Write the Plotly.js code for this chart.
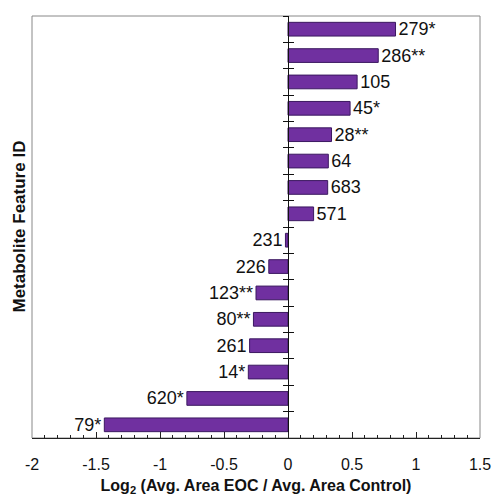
<!DOCTYPE html>
<html><head><meta charset="utf-8">
<script src="https://cdn.plot.ly/plotly-3.0.1.min.js"></script>
<style>html,body{margin:0;padding:0;background:#fff}#chart{width:494px;height:496px}</style>
</head><body><div id="chart"></div>
<script>
const featureIds = ["279*","286**","105","45*","28**","64","683","571","231","226","123**","80**","261","14*","620*","79*"];
const log2Ratio = [0.84,0.705,0.54,0.485,0.34,0.315,0.31,0.20,-0.02,-0.15,-0.25,-0.27,-0.30,-0.31,-0.79,-1.435];
const xTickVals = [-2,-1.5,-1,-0.5,0,0.5,1,1.5];
const xTickText = ["-2","-1.5","-1","-0.5","0","0.5","1","1.5"];

const font = "Liberation Sans, Arial, sans-serif";
const zeroPos = (0 - (-2)) / (1.5 - (-2));

const trace = {
  type: "bar", orientation: "h",
  y: featureIds, x: log2Ratio,
  text: featureIds, textposition: "outside", cliponaxis: false, constraintext: "none",
  textfont: {family: font, size: 18, color: "#111"},
  marker: {color: "#7030A0", line: {color: "#3b1860", width: 1}},
  width: 0.52, hoverinfo: "x+y"
};
// invisible helper so the overlaid (inside-tick) axis at x = 0 is drawn
const helper2 = {type: "scatter", mode: "markers", x: featureIds.map(() => 0), y: featureIds,
  yaxis: "y2", marker: {opacity: 0}, hoverinfo: "skip", showlegend: false};

const layout = {
  width: 494, height: 496,
  margin: {l: 32, r: 14, t: 16, b: 58},
  paper_bgcolor: "#fff", plot_bgcolor: "#fff",
  showlegend: false,
  font: {family: font, color: "#111"},
  xaxis: {
    range: [-2, 1.5], tickmode: "array", tickvals: xTickVals, ticktext: xTickText,
    ticks: "inside", ticklen: 6, tickcolor: "#222", tickwidth: 1,
    minor: {dtick: 0.1, ticks: "inside", ticklen: 3, tickcolor: "#222", showgrid: false},
    showgrid: false, zeroline: false, showline: true, linecolor: "#222", linewidth: 1,
    tickfont: {family: font, size: 16, color: "#111"}, ticklabelstandoff: 12,
    title: {text: "<b>Log<sub>2</sub> (Avg. Area EOC / Avg. Area Control)</b>", font: {family: font, size: 16, color: "#111"}, standoff: 10},
    automargin: false, fixedrange: true
  },
  yaxis: {
    type: "category", categoryorder: "array", categoryarray: featureIds,
    range: [15.5, -0.5], showticklabels: false,
    anchor: "free", position: zeroPos,
    ticks: "outside", tickson: "boundaries", ticklen: 5, tickcolor: "#111", tickwidth: 1,
    showgrid: false, zeroline: false, showline: true, linecolor: "#111", linewidth: 1,
    automargin: false, fixedrange: true
  },
  yaxis2: {
    type: "category", categoryorder: "array", categoryarray: featureIds,
    overlaying: "y", anchor: "free", position: zeroPos,
    range: [15.5, -0.5], showticklabels: false,
    ticks: "inside", tickson: "boundaries", ticklen: 5, tickcolor: "#111", tickwidth: 1,
    showgrid: false, zeroline: false, showline: false,
    automargin: false, fixedrange: true
  },
  annotations: [{text: "<b>Metabolite Feature ID</b>", xref: "paper", yref: "paper",
    x: 0, y: 0.5, xanchor: "right", yanchor: "middle", xshift: -2, textangle: -90, showarrow: false,
    font: {family: font, size: 17, color: "#111"}}],
  shapes: [{type: "rect", xref: "paper", yref: "paper", x0: 0, x1: 1, y0: 0, y1: 1,
    line: {color: "#888", width: 1}, layer: "below"}]
};

Plotly.newPlot("chart", [trace, helper2], layout, {displayModeBar: false, staticPlot: true});
</script></body></html>
